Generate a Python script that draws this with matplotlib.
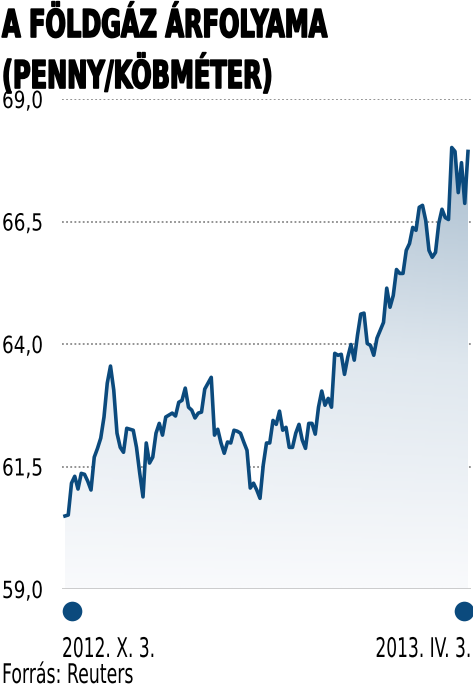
import matplotlib.pyplot as plt
import numpy as np
from matplotlib.colors import LinearSegmentedColormap
from matplotlib.patheffects import AbstractPathEffect
import matplotlib.transforms as mtransforms

# Natural gas price, pence / cubic meter, 2012-10-03 .. 2013-04-03
prices = [60.49, 60.51, 61.16, 61.30, 61.04, 61.36, 61.34, 61.20, 61.02, 61.69,
          61.87, 62.08, 62.51, 63.20, 63.55, 63.06, 62.18, 61.89, 61.79, 62.28,
          62.26, 62.24, 61.89, 61.36, 60.88, 61.98, 61.57, 61.69, 62.18, 62.38,
          62.14, 62.51, 62.55, 62.59, 62.53, 62.81, 62.85, 63.10, 62.71, 62.65,
          62.49, 62.59, 62.61, 63.08, 63.20, 63.32, 62.14, 62.26, 61.98, 61.77,
          62.00, 61.98, 62.24, 62.22, 62.18, 62.00, 61.83, 61.06, 61.16, 61.02,
          60.85, 61.53, 61.98, 61.98, 62.44, 62.36, 62.63, 62.24, 62.30, 61.89,
          61.89, 62.18, 62.36, 62.04, 61.87, 62.38, 62.38, 62.16, 62.71, 63.04,
          62.75, 62.89, 62.71, 63.81, 63.77, 63.79, 63.38, 63.73, 63.99, 63.67,
          64.18, 64.61, 64.63, 64.01, 63.97, 63.77, 64.12, 64.28, 64.44, 65.14,
          64.75, 64.99, 65.52, 65.44, 65.44, 65.91, 66.05, 66.38, 66.32, 66.79,
          66.83, 66.52, 65.91, 65.77, 65.87, 66.46, 66.75, 66.58, 66.54, 68.01,
          67.93, 67.09, 67.70, 66.87, 67.93]
y_ticks = [59.0, 61.5, 64.0, 66.5, 69.0]
y_labels = ['59,0', '61,5', '64,0', '66,5', '69,0']
date_labels = ['2012. X. 3.', '2013. IV. 3.']

line_col = '#0b4a7d'
W, H = 473, 689


class Squeeze(AbstractPathEffect):
    """Narrow the glyphs horizontally around x0 (pixels) to mimic a condensed face."""
    def __init__(self, sx, x0, stroke=0):
        super().__init__()
        self.sx, self.x0, self.stroke = sx, x0, stroke

    def draw_path(self, renderer, gc, tpath, affine, rgbFace=None):
        sq = mtransforms.Affine2D().translate(-self.x0, 0).scale(self.sx, 1).translate(self.x0, 0)
        renderer.draw_path(gc, tpath, affine + sq, rgbFace)
        if self.stroke:
            gc0 = renderer.new_gc()
            gc0.copy_properties(gc)
            gc0.set_linewidth(self.stroke)
            gc0.set_foreground(rgbFace if rgbFace is not None else 'black')
            renderer.draw_path(gc0, tpath, affine + sq, rgbFace)
            gc0.restore()


def label(px, py, s, size, sx, ha='left', bold=False, stroke=0):
    fig.text(px / W, 1 - py / H, s, fontsize=size, ha=ha, va='baseline',
             fontweight='bold' if bold else 'normal', family='DejaVu Sans',
             path_effects=[Squeeze(sx, px, stroke)])


x = np.arange(len(prices))

fig = plt.figure(figsize=(W / 100, H / 100), dpi=100)
ax = fig.add_axes([62 / W, 1 - 589 / H, 409 / W, 490 / H])

# x range so that first point sits at px 65 and last at px 468
px_per = (468 - 65) / (len(prices) - 1)
ax.set_xlim(-(65 - 62) / px_per, (len(prices) - 1) + (471 - 468) / px_per)
ax.set_ylim(59, 69)

# gradient fill under the line
cmap = LinearSegmentedColormap.from_list('g', ['#f9fafc', '#dfe7ee', '#a6bbcd'])
grad = np.linspace(0, 1, 256).reshape(-1, 1) * np.linspace(0.85, 1.0, 256).reshape(1, -1)
img = ax.imshow(grad, cmap=cmap, origin='lower', aspect='auto',
                extent=[x[0], x[-1], 59, 68.2], zorder=1, vmin=0, vmax=1)
poly = ax.fill_between(x, prices, 59, color='none', lw=0)
img.set_clip_path(poly.get_paths()[0], transform=ax.transData)

# gridlines
for t in y_ticks[1:]:
    ax.axhline(t, color='#8a8a8a', lw=1.3, ls=(0, (1, 1.3)), zorder=0)
ax.axhline(59, color='#c8c8c8', lw=1.3, zorder=3)

ax.plot(x, prices, color=line_col, lw=2.6, solid_joinstyle='round', zorder=4)

for sp in ax.spines.values():
    sp.set_visible(False)
ax.set_xticks([])
ax.set_yticks([])

# y labels at left edge of figure
for t, lab in zip(y_ticks, y_labels):
    label(2, 589 - (t - 59) * 49 + 9, lab, 17, 0.78)

# start / end markers and dates
trans = mtransforms.blended_transform_factory(ax.transData, fig.transFigure)
ax.scatter([2.2, len(prices) - 2.2], [1 - 611 / H] * 2, s=200, color=line_col,
           transform=trans, clip_on=False, zorder=5, linewidths=0)
label(62, 657, date_labels[0], 19.5, 0.63)
label(471, 657, date_labels[1], 19.5, 0.63, ha='right')
label(2, 683, 'Forrás: Reuters', 19.5, 0.64)

# title
label(2, 37, 'A FÖLDGÁZ ÁRFOLYAMA', 27.5, 0.63, bold=True, stroke=1.2)
label(2, 88, '(PENNY/KÖBMÉTER)', 27.5, 0.63, bold=True, stroke=1.2)

fig.savefig('out.png', dpi=100)
